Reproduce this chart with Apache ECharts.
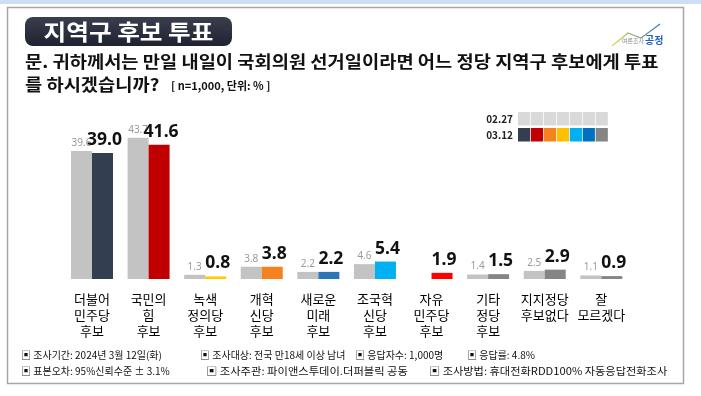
<!DOCTYPE html>
<html>
<head>
<meta charset="utf-8">
<script src="https://cdn.jsdelivr.net/npm/echarts@6/dist/echarts.min.js"></script>
<style>
  html, body { margin: 0; padding: 0; background: #fff; }
  #main { width: 701px; height: 396px; }
</style>
</head>
<body>
<div id="main"></div>
<script>
const categories = [
  '더불어\n민주당\n후보', '국민의\n힘\n후보', '녹색\n정의당\n후보', '개혁\n신당\n후보', '새로운\n미래\n후보',
  '조국혁\n신당\n후보', '자유\n민주당\n후보', '기타\n정당\n후보', '지지정당\n후보없다', '잘\n모르겠다',
]
// 02.27 조사 (이전)
const prevValues = [39.6, 43.7, 1.3, 3.8, 2.2, 4.6, null, 1.4, 2.5, 1.1]
// 03.12 조사 (이번)
const currValues = [39.0, 41.6, 0.8, 3.8, 2.2, 5.4, 1.9, 1.5, 2.9, 0.9]
const barColors = ['#333f50', '#c00000', '#ffcc00', '#f5821f', '#2e75b6', '#00b0f0', '#ff0000', '#858585', '#858585', '#858585']
const legendColors = ['#333f50', '#c00000', '#f5821f', '#ffc000', '#00b0f0', '#0070c0', '#858585']
const legendLabels = ['02.27', '03.12']

const FONT = '"Noto Sans CJK KR", "Noto Sans", sans-serif'

// 범례 (2행 색상 칸)
const legendCells = []
legendColors.forEach((c, i) => {
  legendCells.push({
    type: 'rect', shape: { x: 518 + i * 12.94, y: 112, width: 12.2, height: 13.5 },
    style: { fill: '#d9d9d9' },
  })
  legendCells.push({
    type: 'rect', shape: { x: 518 + i * 12.94, y: 128, width: 12.2, height: 13.5 },
    style: { fill: c },
  })
})
legendLabels.forEach((t, i) => {
  legendCells.push({
    type: 'text', x: 513, y: 119 + i * 16,
    style: { text: t, font: `bold 10px ${FONT}`, fill: '#222', align: 'right', verticalAlign: 'middle' },
  })
})

// 하단 조사 개요 [문구, x, y, 가로배율]
const footer = [
  ['▣ 조사기간: 2024년 3월 12일(화)', 21, 355, 1],
  ['▣ 조사대상: 전국 만18세 이상 남녀', 200, 355, 1],
  ['▣ 응답자수: 1,000명', 355, 355, 1],
  ['▣ 응답률: 4.8%', 467, 355, 1],
  ['▣ 표본오차: 95%신뢰수준 ± 3.1%', 21, 371, 1],
  ['▣ 조사주관: 파이앤스투데이.더퍼블릭 공동', 206, 371, 1.13],
  ['▣ 조사방법: 휴대전화RDD100% 자동응답전화조사', 429, 371, 1.12],
].map(([t, x, y, s]) => ({
  type: 'text', x, y, scaleX: s,
  style: { text: t, font: `10px ${FONT}`, fill: '#111', verticalAlign: 'middle' },
}))

const chart = echarts.init(document.getElementById('main'))
chart.setOption({
  backgroundColor: '#fff',
  animation: false,
  grid: { left: 63.7, right: 71.4, top: 117.5, bottom: 117 },
  xAxis: {
    type: 'category',
    data: categories,
    axisLine: { show: false },
    axisTick: { show: false },
    axisLabel: {
      interval: 0, margin: 12, fontSize: 13, lineHeight: 16, color: '#000',
      fontFamily: FONT, verticalAlign: 'top',
    },
  },
  yAxis: { type: 'value', min: 0, max: 50, show: false, splitLine: { show: false } },
  series: [
    {
      name: '02.27', type: 'bar', data: prevValues, barWidth: 21, barGap: '0%',
      itemStyle: { color: '#c3c3c3' },
      label: {
        show: true, position: 'top', distance: 3, fontSize: 10, color: '#9a9a9a', fontFamily: '"Noto Sans", sans-serif',
        formatter: p => p.value.toFixed(1),
      },
    },
    {
      name: '03.12', type: 'bar', barWidth: 21, barGap: '0%',
      data: currValues.map((v, i) => ({ value: v, itemStyle: { color: barColors[i] } })),
      label: {
        show: true, position: 'top', distance: 4, fontSize: 17.5, fontWeight: 'bold', color: '#111',
        fontFamily: '"Noto Sans", sans-serif', offset: [2, 0],
        formatter: p => p.value.toFixed(1),
      },
    },
  ],
  graphic: [
    // 상단 띠, 테두리
    { type: 'rect', shape: { x: 0, y: 0, width: 701, height: 4 }, style: { fill: '#cddff4' }, silent: true },
    { type: 'rect', shape: { x: 7.5, y: 7.5, width: 676, height: 376 }, style: { fill: 'none', stroke: '#a6a6a6', lineWidth: 1.5 }, silent: true },
    // 제목 상자
    {
      type: 'rect', shape: { x: 25, y: 17, width: 207, height: 29, r: 8 },
      style: { fill: new echarts.graphic.LinearGradient(0, 0, 0, 1, [{ offset: 0, color: '#3a3e4e' }, { offset: 1, color: '#1f2230' }]) },
    },
    {
      type: 'text', x: 128.5, y: 32, scaleX: 1.12,
      style: { text: '지역구 후보 투표', font: `bold 22px ${FONT}`, fill: '#fff', align: 'center', verticalAlign: 'middle' },
    },
    // 질문
    {
      type: 'text', x: 25, y: 62, scaleX: 1.1,
      style: { text: '문. 귀하께서는 만일 내일이 국회의원 선거일이라면 어느 정당 지역구 후보에게 투표', font: `bold 17px ${FONT}`, fill: '#111', verticalAlign: 'middle' },
    },
    {
      type: 'text', x: 25, y: 85, scaleX: 1.1,
      style: { text: '를 하시겠습니까?', font: `bold 17px ${FONT}`, fill: '#111', verticalAlign: 'middle' },
    },
    {
      type: 'text', x: 171, y: 86,
      style: { text: '[ n=1,000, 단위: % ]', font: `bold 11px ${FONT}`, fill: '#111', verticalAlign: 'middle' },
    },
    // 로고
    {
      type: 'polyline', shape: { points: [[612, 46], [628, 33], [641, 38], [660, 24]] },
      style: {
        fill: 'none', lineWidth: 1.2,
        stroke: new echarts.graphic.LinearGradient(0, 0, 1, 0, [{ offset: 0, color: '#d8e64a' }, { offset: 1, color: '#3a6fc8' }]),
      },
    },
    { type: 'text', x: 622, y: 41, style: { text: '여론조사', font: `6px ${FONT}`, fill: '#888', verticalAlign: 'middle' } },
    { type: 'text', x: 645, y: 40, style: { text: '공정', font: `bold 10px ${FONT}`, fill: '#1f5fbf', verticalAlign: 'middle' } },
    ...legendCells,
    ...footer,
  ],
})
</script>
</body>
</html>
